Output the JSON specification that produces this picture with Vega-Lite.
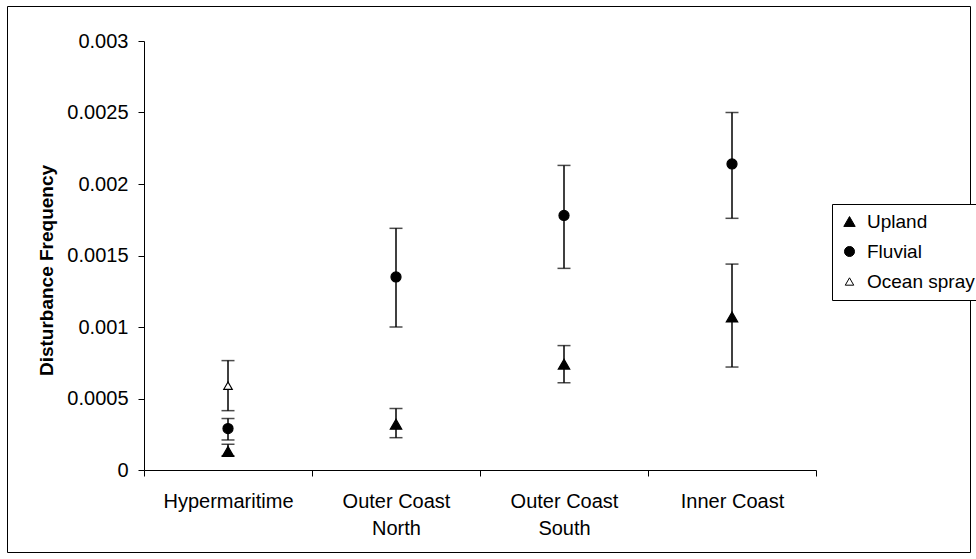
{
  "$schema": "https://vega.github.io/schema/vega-lite/v6.json",
  "width": 963,
  "height": 546,
  "autosize": {"type": "none"},
  "padding": {"left": 7, "top": 6, "right": 6, "bottom": 7},
  "background": "white",
  "config": {
    "view": {"stroke": "black", "strokeWidth": 1},
    "font": "Liberation Sans",
    "legend": {"title": null, "orient": "none", "legendX": 825, "legendY": 198, "strokeColor": "black", "fillColor": "white", "padding": 8, "labelFontSize": 19, "labelColor": "black", "symbolSize": 55, "symbolStrokeColor": "black", "symbolStrokeWidth": 1, "rowPadding": 10, "labelOffset": 8, "labelLimit": 0}
  },
  "data": {
    "values": [
      {"region": "Hypermaritime", "type": "Upland", "value": 0.00013, "lower": 0.0001, "upper": 0.00018},
      {"region": "Hypermaritime", "type": "Fluvial", "value": 0.00029, "lower": 0.00021, "upper": 0.00036},
      {"region": "Hypermaritime", "type": "Ocean spray", "value": 0.00059, "lower": 0.000415, "upper": 0.000765},
      {"region": "Outer Coast North", "type": "Upland", "value": 0.00032, "lower": 0.000226, "upper": 0.00043},
      {"region": "Outer Coast North", "type": "Fluvial", "value": 0.00135, "lower": 0.001, "upper": 0.00169},
      {"region": "Outer Coast South", "type": "Upland", "value": 0.00074, "lower": 0.00061, "upper": 0.00087},
      {"region": "Outer Coast South", "type": "Fluvial", "value": 0.00178, "lower": 0.00141, "upper": 0.00213},
      {"region": "Inner Coast", "type": "Upland", "value": 0.00107, "lower": 0.00072, "upper": 0.00144},
      {"region": "Inner Coast", "type": "Fluvial", "value": 0.00214, "lower": 0.00176, "upper": 0.0025}
    ]
  },
  "encoding": {
    "x": {
      "field": "region",
      "type": "nominal",
      "scale": {"type": "band", "domain": ["Hypermaritime", "Outer Coast North", "Outer Coast South", "Inner Coast"], "range": [137, 809], "paddingInner": 0, "paddingOuter": 0},
      "axis": {
        "title": null,
        "offset": -82,
        "tickBand": "extent",
        "domainColor": "black",
        "tickColor": "black",
        "tickSize": 6,
        "labelFontSize": 20,
        "labelColor": "black",
        "labelPadding": 15,
        "labelAngle": 0,
        "labelLineHeight": 27,
        "labelLimit": 0,
        "labelOverlap": false,
        "labelExpr": "indexof(datum.label, 'Outer Coast ') == 0 ? [slice(datum.label, 0, 11), slice(datum.label, 12)] : datum.label"
      }
    }
  },
  "layer": [
    {
      "mark": {"type": "rule", "color": "black", "strokeWidth": 1.5},
      "encoding": {
        "y": {
          "field": "lower",
          "type": "quantitative",
          "scale": {"domain": [0, 0.003], "range": [464, 35], "nice": false, "zero": false},
          "axis": {
            "title": "Disturbance Frequency",
            "values": [0, 0.0005, 0.001, 0.0015, 0.002, 0.0025, 0.003],
            "format": "~g",
            "grid": false,
            "offset": -137,
            "domainColor": "black",
            "tickColor": "black",
            "tickSize": 6,
            "labelFontSize": 20,
            "labelColor": "black",
            "labelPadding": 10,
            "labelFlush": false,
            "labelOverlap": false,
            "titleFontSize": 19,
            "titleFontWeight": "bold",
            "titleColor": "black",
            "titleX": -92,
            "titleY": 264,
            "titleAngle": 270,
            "titleAlign": "center",
            "titleBaseline": "alphabetic"
          }
        },
        "y2": {"field": "upper"}
      }
    },
    {
      "mark": {"type": "tick", "color": "black", "size": 13, "thickness": 1.5, "orient": "horizontal"},
      "encoding": {"y": {"field": "lower", "type": "quantitative"}}
    },
    {
      "mark": {"type": "tick", "color": "black", "size": 13, "thickness": 1.5, "orient": "horizontal"},
      "encoding": {"y": {"field": "upper", "type": "quantitative"}}
    },
    {
      "mark": {"type": "point", "filled": true, "strokeWidth": 1.2, "opacity": 1},
      "encoding": {
        "y": {"field": "value", "type": "quantitative"},
        "size": {
          "field": "type",
          "type": "nominal",
          "scale": {"domain": ["Upland", "Fluvial", "Ocean spray"], "range": [130, 72, 110]},
          "legend": {"encode": {"symbols": {"update": {"size": {"value": 55}}}}}
        },
        "stroke": {
          "field": "type",
          "type": "nominal",
          "scale": {"domain": ["Upland", "Fluvial", "Ocean spray"], "range": ["black", "black", "black"]},
          "legend": {"encode": {"symbols": {"update": {"size": {"value": 55}}}}}
        },
        "shape": {
          "field": "type",
          "type": "nominal",
          "scale": {"domain": ["Upland", "Fluvial", "Ocean spray"], "range": ["triangle-up", "circle", "triangle-up"]},
          "legend": {"encode": {"symbols": {"update": {"size": {"value": 55}}}}}
        },
        "fill": {
          "field": "type",
          "type": "nominal",
          "scale": {"domain": ["Upland", "Fluvial", "Ocean spray"], "range": ["black", "black", "white"]},
          "legend": {"encode": {"symbols": {"update": {"size": {"value": 55}}}}}
        }
      }
    }
  ]
}
